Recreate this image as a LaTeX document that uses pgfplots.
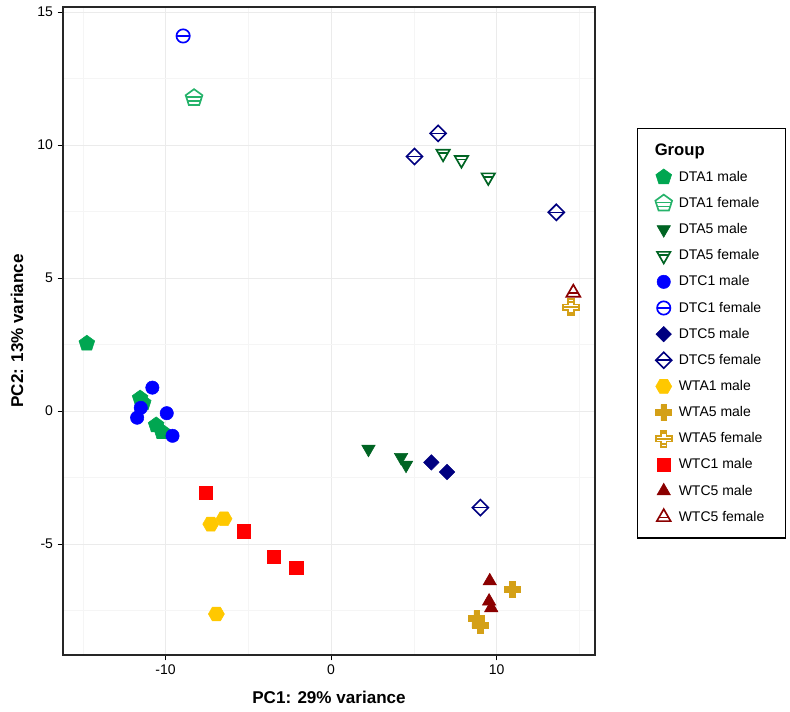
\documentclass[border=0pt]{standalone}
\usepackage{pgfplots}
\pgfplotsset{compat=1.18}
\usepackage{fontspec}
\setmainfont{Liberation Sans}
\usetikzlibrary{plotmarks}

\definecolor{cDTA1}{RGB}{0,166,81}
\definecolor{cDTA5}{RGB}{0,100,35}
\definecolor{cDTC1}{RGB}{0,0,255}
\definecolor{cDTC5}{RGB}{0,0,128}
\definecolor{cWTA1}{RGB}{255,200,0}
\definecolor{cWTA5}{RGB}{212,160,23}
\definecolor{cWTC1}{RGB}{255,0,0}
\definecolor{cWTC5}{RGB}{139,0,0}

% filled hexagon
\pgfdeclareplotmark{hexagon*}{%
  \pgfpathmoveto{\pgfqpoint{\pgfplotmarksize}{0pt}}%
  \pgfpathlineto{\pgfqpoint{.5\pgfplotmarksize}{.866\pgfplotmarksize}}%
  \pgfpathlineto{\pgfqpoint{-.5\pgfplotmarksize}{.866\pgfplotmarksize}}%
  \pgfpathlineto{\pgfqpoint{-\pgfplotmarksize}{0pt}}%
  \pgfpathlineto{\pgfqpoint{-.5\pgfplotmarksize}{-.866\pgfplotmarksize}}%
  \pgfpathlineto{\pgfqpoint{.5\pgfplotmarksize}{-.866\pgfplotmarksize}}%
  \pgfpathclose
  \pgfusepathqfillstroke}
% plus shape
\def\plusshape{%
  \pgfpathmoveto{\pgfqpoint{.36\pgfplotmarksize}{\pgfplotmarksize}}%
  \pgfpathlineto{\pgfqpoint{.36\pgfplotmarksize}{.36\pgfplotmarksize}}%
  \pgfpathlineto{\pgfqpoint{\pgfplotmarksize}{.36\pgfplotmarksize}}%
  \pgfpathlineto{\pgfqpoint{\pgfplotmarksize}{-.36\pgfplotmarksize}}%
  \pgfpathlineto{\pgfqpoint{.36\pgfplotmarksize}{-.36\pgfplotmarksize}}%
  \pgfpathlineto{\pgfqpoint{.36\pgfplotmarksize}{-\pgfplotmarksize}}%
  \pgfpathlineto{\pgfqpoint{-.36\pgfplotmarksize}{-\pgfplotmarksize}}%
  \pgfpathlineto{\pgfqpoint{-.36\pgfplotmarksize}{-.36\pgfplotmarksize}}%
  \pgfpathlineto{\pgfqpoint{-\pgfplotmarksize}{-.36\pgfplotmarksize}}%
  \pgfpathlineto{\pgfqpoint{-\pgfplotmarksize}{.36\pgfplotmarksize}}%
  \pgfpathlineto{\pgfqpoint{-.36\pgfplotmarksize}{.36\pgfplotmarksize}}%
  \pgfpathlineto{\pgfqpoint{-.36\pgfplotmarksize}{\pgfplotmarksize}}%
  \pgfpathclose}
\pgfdeclareplotmark{fplus}{\plusshape\pgfusepathqfillstroke}
\pgfdeclareplotmark{splus}{%
  \plusshape\pgfusepathqfillstroke
  \pgfpathmoveto{\pgfqpoint{-\pgfplotmarksize}{0pt}}%
  \pgfpathlineto{\pgfqpoint{\pgfplotmarksize}{0pt}}%
  \pgfpathmoveto{\pgfqpoint{-.36\pgfplotmarksize}{.68\pgfplotmarksize}}%
  \pgfpathlineto{\pgfqpoint{.36\pgfplotmarksize}{.68\pgfplotmarksize}}%
  \pgfpathmoveto{\pgfqpoint{-.36\pgfplotmarksize}{-.68\pgfplotmarksize}}%
  \pgfpathlineto{\pgfqpoint{.36\pgfplotmarksize}{-.68\pgfplotmarksize}}%
  \pgfusepathqstroke}
% diamonds
\def\diamshape{%
  \pgfpathmoveto{\pgfqpoint{0pt}{\pgfplotmarksize}}%
  \pgfpathlineto{\pgfqpoint{\pgfplotmarksize}{0pt}}%
  \pgfpathlineto{\pgfqpoint{0pt}{-\pgfplotmarksize}}%
  \pgfpathlineto{\pgfqpoint{-\pgfplotmarksize}{0pt}}%
  \pgfpathclose}
\pgfdeclareplotmark{fdiamond}{\diamshape\pgfusepathqfillstroke}
\pgfdeclareplotmark{sdiamond}{%
  \diamshape\pgfusepathqfillstroke
  \pgfpathmoveto{\pgfqpoint{-\pgfplotmarksize}{0pt}}%
  \pgfpathlineto{\pgfqpoint{\pgfplotmarksize}{0pt}}%
  \pgfusepathqstroke}
% striped circle
\pgfdeclareplotmark{scircle}{%
  \pgfpathcircle{\pgfpointorigin}{\pgfplotmarksize}%
  \pgfusepathqfillstroke
  \pgfpathmoveto{\pgfqpoint{-\pgfplotmarksize}{0pt}}%
  \pgfpathlineto{\pgfqpoint{\pgfplotmarksize}{0pt}}%
  \pgfusepathqstroke}
% striped pentagon
\pgfdeclareplotmark{spentagon}{%
  \pgfpathmoveto{\pgfqpoint{0pt}{\pgfplotmarksize}}%
  \pgfpathlineto{\pgfqpoint{.951\pgfplotmarksize}{.309\pgfplotmarksize}}%
  \pgfpathlineto{\pgfqpoint{.588\pgfplotmarksize}{-.809\pgfplotmarksize}}%
  \pgfpathlineto{\pgfqpoint{-.588\pgfplotmarksize}{-.809\pgfplotmarksize}}%
  \pgfpathlineto{\pgfqpoint{-.951\pgfplotmarksize}{.309\pgfplotmarksize}}%
  \pgfpathclose
  \pgfusepathqfillstroke
  \pgfpathmoveto{\pgfqpoint{-.9\pgfplotmarksize}{.12\pgfplotmarksize}}%
  \pgfpathlineto{\pgfqpoint{.9\pgfplotmarksize}{.12\pgfplotmarksize}}%
  \pgfpathmoveto{\pgfqpoint{-.75\pgfplotmarksize}{-.36\pgfplotmarksize}}%
  \pgfpathlineto{\pgfqpoint{.75\pgfplotmarksize}{-.36\pgfplotmarksize}}%
  \pgfusepathqstroke}
% striped triangle (pointing up)
\pgfdeclareplotmark{striangle}{%
  \pgfpathmoveto{\pgfqpoint{0pt}{\pgfplotmarksize}}%
  \pgfpathlineto{\pgfqpoint{.866\pgfplotmarksize}{-.5\pgfplotmarksize}}%
  \pgfpathlineto{\pgfqpoint{-.866\pgfplotmarksize}{-.5\pgfplotmarksize}}%
  \pgfpathclose
  \pgfusepathqfillstroke
  \pgfpathmoveto{\pgfqpoint{-.6\pgfplotmarksize}{-.05\pgfplotmarksize}}%
  \pgfpathlineto{\pgfqpoint{.6\pgfplotmarksize}{-.05\pgfplotmarksize}}%
  \pgfusepathqstroke}

\pgfplotsset{
  male/.style={only marks, mark options={line width=0.4pt}},
  fem/.style={only marks, mark options={fill=white, line width=1.25pt}},
}

\begin{document}
\begin{tikzpicture}
\useasboundingbox (-47.25pt,-42.75pt) rectangle (545.25pt,491.25pt);
\begin{axis}[
  at={(0,0)}, anchor=south west,
  scale only axis, width=399pt, height=486pt,
  xmin=-16.2, xmax=15.95, ymin=-9.17, ymax=15.19,
  xtick={-10,0,10}, ytick={-5,0,5,10,15},
  minor xtick={-15,-5,5,15}, minor ytick={-7.5,-2.5,2.5,7.5,12.5},
  grid=both,
  major grid style={line width=0.6pt, color=black!8},
  minor grid style={line width=0.4pt, color=black!4},
  minor tick length=0pt, major tick length=4pt,
  tick align=outside, xtick pos=left, ytick pos=left,
  axis line style={line width=1.1pt, black!85},
  tick style={line width=0.8pt, black},
  /pgf/number format/assume math mode=true,
  ticklabel style={font=\fontsize{10.5}{12}\selectfont},
  xlabel={PC1: 29\% variance}, ylabel={PC2: 13\% variance},
  label style={font=\fontsize{12.8}{15}\selectfont\bfseries},
  xlabel style={at={(axis description cs:0.5,-0.0648)}, anchor=center},
  ylabel style={at={(axis description cs:-0.0865,0.5)}, anchor=center},
  legend style={at={(1.079,0.813)}, anchor=north west, draw=black,
    line width=1pt, inner xsep=11pt, inner ysep=9pt, row sep=6.5pt,
    font=\fontsize{10.5}{12}\selectfont,
    nodes={inner xsep=5pt}},
  legend cell align=left,
]
\addlegendimage{empty legend}
\addlegendentry{\hspace*{-18pt}\fontsize{12.5}{14}\selectfont\bfseries Group}

\addplot[male, mark=pentagon*, mark size=6.2pt, color=cDTA1] coordinates {
  (-14.76,2.54) (-11.54,0.48) (-11.35,0.30) (-10.57,-0.53) (-10.23,-0.78)};
\addlegendentry{DTA1 male}
\addplot[fem, mark=spentagon, mark size=6.6pt, color=cDTA1!85!white] coordinates {
  (-8.28,11.77)};
\addlegendentry{DTA1 female}
\addplot[only marks, mark=triangle*, mark size=5.8pt,
  mark options={rotate=180, line width=0.4pt}, color=cDTA5] coordinates {
  (2.26,-1.43) (4.23,-1.74) (4.53,-2.03)};
\addlegendentry{DTA5 male}
\addplot[only marks, mark=striangle, mark size=5.8pt,
  mark options={rotate=180, fill=white, line width=1.25pt}, color=cDTA5] coordinates {
  (6.77,9.68) (7.88,9.44) (9.50,8.79)};
\addlegendentry{DTA5 female}
\addplot[male, mark=*, mark size=5pt, color=cDTC1] coordinates {
  (-10.80,0.88) (-11.50,0.12) (-11.72,-0.25) (-9.93,-0.08) (-9.58,-0.93)};
\addlegendentry{DTC1 male}
\addplot[fem, mark=scircle, mark size=5pt, color=cDTC1] coordinates {
  (-8.94,14.10)};
\addlegendentry{DTC1 female}
\addplot[male, mark=fdiamond, mark size=5.8pt, color=cDTC5] coordinates {
  (6.06,-1.93) (7.01,-2.29)};
\addlegendentry{DTC5 male}
\addplot[fem, mark=sdiamond, mark size=6pt, color=cDTC5] coordinates {
  (6.47,10.44) (5.04,9.57) (13.61,7.47) (9.02,-3.63)};
\addlegendentry{DTC5 female}
\addplot[male, mark=hexagon*, mark size=6pt, color=cWTA1] coordinates {
  (-7.27,-4.25) (-6.47,-4.05) (-6.93,-7.63)};
\addlegendentry{WTA1 male}
\addplot[male, mark=fplus, mark size=6pt, color=cWTA5] coordinates {
  (10.95,-6.70) (8.80,-7.80) (9.00,-8.05)};
\addlegendentry{WTA5 male}
\addplot[fem, mark=splus, mark size=6pt, color=cWTA5] coordinates {
  (14.50,3.90)};
\addlegendentry{WTA5 female}
\addplot[male, mark=square*, mark size=5pt, color=cWTC1] coordinates {
  (-7.57,-3.06) (-5.26,-4.52) (-3.46,-5.49) (-2.10,-5.88)};
\addlegendentry{WTC1 male}
\addplot[male, mark=triangle*, mark size=5.8pt, color=cWTC5] coordinates {
  (9.59,-6.39) (9.55,-7.15) (9.68,-7.40)};
\addlegendentry{WTC5 male}
\addplot[fem, mark=striangle, mark size=6pt, color=cWTC5] coordinates {
  (14.64,4.45)};
\addlegendentry{WTC5 female}
\end{axis}
\end{tikzpicture}
\end{document}
